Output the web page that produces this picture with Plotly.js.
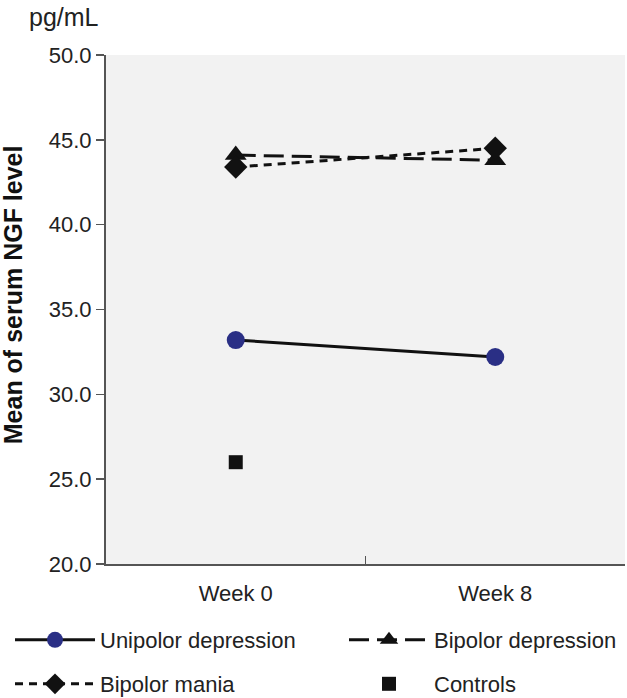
<!DOCTYPE html>
<html>
<head>
<meta charset="utf-8">
<script src="https://cdn.plot.ly/plotly-3.0.1.min.js"></script>
<style>html,body{margin:0;padding:0;background:#fff;}#chart{width:627px;height:698px;}</style>
</head>
<body>
<div id="chart"></div>
<script>
// Data
var weeks = ["Week 0", "Week 8"];
var unipolarDepression = [33.2, 32.2];
var bipolarDepression = [44.1, 43.8];
var bipolarMania = [43.4, 44.5];
var controlsWeeks = ["Week 0"];
var controls = [26.0];
var yTicks = [20, 25, 30, 35, 40, 45, 50];

var FONT = "Liberation Sans, Arial, sans-serif";
var TXT = "#222";

var traces = [
  {
    name: "Unipolor depression", x: weeks, y: unipolarDepression,
    type: "scatter", mode: "lines+markers",
    line: {color: "#111", width: 3},
    marker: {symbol: "circle", size: 18, color: "#2a2f85"},
    legend: "legend"
  },
  {
    name: "Bipolor depression", x: weeks, y: bipolarDepression,
    type: "scatter", mode: "lines+markers",
    line: {color: "#111", width: 3, dash: "20px,8px"},
    marker: {symbol: "triangle-up", size: 19, color: "#111"},
    legend: "legend2"
  },
  {
    name: "Bipolor mania", x: weeks, y: bipolarMania,
    type: "scatter", mode: "lines+markers",
    line: {color: "#111", width: 3, dash: "8px,6px"},
    marker: {symbol: "diamond", size: 18, color: "#111"},
    legend: "legend3"
  },
  {
    name: "Controls", x: controlsWeeks, y: controls,
    type: "scatter", mode: "markers",
    marker: {symbol: "square", size: 14, color: "#111"},
    legend: "legend4"
  },
  {
    x: [], y: [], xaxis: "x2", yaxis: "y", type: "scatter",
    showlegend: false, hoverinfo: "skip"
  }
];

function legendAt(px, py) {
  return {
    orientation: "h",
    xref: "container", yref: "container",
    x: px / 627, xanchor: "left",
    y: 1 - py / 698, yanchor: "middle",
    itemwidth: 80,
    bgcolor: "rgba(0,0,0,0)",
    font: {family: FONT, size: 22, color: TXT}
  };
}

var layout = {
  width: 627, height: 698,
  margin: {l: 106, r: 2, t: 55, b: 134},
  paper_bgcolor: "#ffffff",
  plot_bgcolor: "#f2f2f2",
  font: {family: FONT, size: 21, color: TXT},
  showlegend: true,
  xaxis: {
    type: "category", categoryarray: weeks, range: [-0.5, 1.5],
    showgrid: false, zeroline: false, ticks: "",
    showline: true, linecolor: "#555", linewidth: 2,
    ticklabelstandoff: 9,
    tickfont: {family: FONT, size: 22, color: TXT}
  },
  xaxis2: {
    overlaying: "x", anchor: "y", side: "bottom", type: "linear",
    range: [-0.5, 1.5], tickvals: [0.5, 1.5], ticks: "inside",
    ticklen: 8, tickwidth: 1.5, tickcolor: "#555",
    showticklabels: false, showgrid: false, zeroline: false, showline: false
  },
  yaxis: {
    range: [20, 50], tickvals: yTicks, tickformat: ".1f",
    ticks: "outside", ticklen: 8, tickwidth: 1.5, tickcolor: "#555",
    showline: true, linecolor: "#555", linewidth: 2,
    showgrid: false, zeroline: false,
    tickfont: {family: FONT, size: 22, color: TXT}
  },
  legend: legendAt(10, 640),
  legend2: legendAt(344, 640),
  legend3: legendAt(10, 684),
  legend4: legendAt(344, 684),
  annotations: [
    {text: "pg/mL", xref: "paper", yref: "paper", x: 0, y: 1.0, xanchor: "left", yanchor: "bottom",
     xshift: -79, yshift: 22, showarrow: false, font: {family: FONT, size: 25, color: TXT}},
    {text: "<b>Mean of serum NGF level</b>", xref: "paper", yref: "paper", x: 0, y: 0.528,
     xanchor: "center", yanchor: "middle", xshift: -93, textangle: -90, showarrow: false,
     font: {family: FONT, size: 25, color: "#111"}}
  ]
};

Plotly.newPlot("chart", traces, layout, {displayModeBar: false, staticPlot: true});
</script>
</body>
</html>
